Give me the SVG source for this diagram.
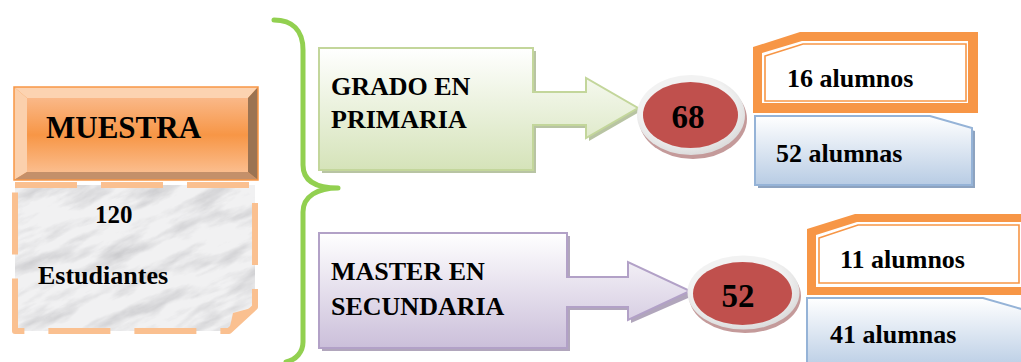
<svg xmlns="http://www.w3.org/2000/svg" width="1021" height="362" viewBox="0 0 1021 362">
<defs>
  <linearGradient id="gGreen" x1="0" y1="0" x2="0" y2="1">
    <stop offset="0" stop-color="#ffffff"/><stop offset="1" stop-color="#d5e3b9"/>
  </linearGradient>
  <linearGradient id="gPurple" x1="0" y1="0" x2="0" y2="1">
    <stop offset="0" stop-color="#ffffff"/><stop offset="1" stop-color="#cbbfda"/>
  </linearGradient>
  <linearGradient id="gBlue" x1="0" y1="0" x2="0" y2="1">
    <stop offset="0" stop-color="#ffffff"/><stop offset="1" stop-color="#b8cce4"/>
  </linearGradient>
  <linearGradient id="gOrange" x1="0" y1="0" x2="0" y2="1">
    <stop offset="0" stop-color="#fab888"/><stop offset="0.5" stop-color="#f79646"/><stop offset="1" stop-color="#fbbd8d"/>
  </linearGradient>
  <radialGradient id="gRing" cx="0.45" cy="0.4" r="0.6">
    <stop offset="0.7" stop-color="#f2f2f2"/><stop offset="1" stop-color="#dcdcdc"/>
  </radialGradient>
  <filter id="marble" x="0" y="0" width="1" height="1">
    <feTurbulence type="fractalNoise" baseFrequency="0.02 0.07" numOctaves="5" seed="11" result="t"/>
    <feColorMatrix in="t" type="matrix" values="0 0 0 0 0.58  0 0 0 0 0.58  0 0 0 0 0.6  1.9 0 0 0 -0.82" result="c"/>
    <feComposite in="c" in2="SourceGraphic" operator="in"/>
  </filter>
  <clipPath id="cp" clipPathUnits="userSpaceOnUse">
    <path transform="rotate(25 135 258)" d="M15,185 H255 V307 L229,331 H15 Z"/>
  </clipPath>
  <style>
    .t{font-family:"Liberation Serif","Times New Roman",serif;font-weight:bold;fill:#000}
    .brace{fill:none;stroke:#92d050;stroke-width:5;stroke-linecap:round;stroke-linejoin:round}
    .band{fill:#f79646;fill-rule:evenodd}
    .thin{fill:#fff;stroke:#f79646;stroke-width:1.6}
  </style>
</defs>

<g id="muestra">
  <rect x="14" y="87" width="244" height="93" fill="#f79646"/>
  <polygon points="14,87 258,87 248,98 27,98" fill="#fcd3b1"/>
  <polygon points="14,87 27,98 27,172 14,180" fill="#fbd0ac"/>
  <polygon points="258,87 258,180 248,172 248,98" fill="#9b7352"/>
  <polygon points="14,180 258,180 248,172 27,172" fill="#c4906a"/>
  <rect x="27" y="98" width="221" height="74" fill="url(#gOrange)"/>
  <rect x="14" y="87" width="244" height="93" fill="none" stroke="#f79646" stroke-width="1.5"/>
  <text class="t" x="46" y="138" font-size="31">MUESTRA</text>
</g>

<g id="estudiantes">
  <path d="M15,185 H255 V307 L229,331 H15 Z" fill="#f1f1f2"/>
  <g transform="rotate(-25 135 258)">
    <rect x="-30" y="130" width="330" height="260" fill="#000" filter="url(#marble)" clip-path="url(#cp)"/>
  </g>
  <polygon points="255,307 229,331 233,313" fill="#fac090"/>
  <path d="M15,185 H255 V307 L229,331 H15 Z" fill="none" stroke="#fac090" stroke-width="6" stroke-dasharray="62 24" stroke-linejoin="round"/>
  <text class="t" x="95" y="223" font-size="25">120</text>
  <text class="t" x="38" y="284" font-size="26">Estudiantes</text>
</g>

<g id="connectors">
  <path class="brace" d="M274,20 C292,20 303,30 303,50 V165 C303,182 318,188 338,188 C318,188 303,196 303,212 V342 C303,352 296,360 286,362"/>
</g>

<g id="grado">
  <polygon points="322,51 536,51 536,95 589,95 589,81 641,111 589,141 589,128 536,128 536,173 322,173" fill="#a6b58c" opacity="0.8"/>
  <polygon points="319,48 533,48 533,92 586,92 586,78 638,108 586,138 586,125 533,125 533,170 319,170" fill="url(#gGreen)" stroke="#c3d69b" stroke-width="2"/>
  <text class="t" x="331" y="95" font-size="26">GRADO EN</text>
  <text class="t" x="331" y="128" font-size="26">PRIMARIA</text>
</g>

<g id="master">
  <polygon points="322,236 570,236 570,280 631,280 631,265 695,295 631,323 631,310 570,310 570,351 322,351" fill="#a397b0" opacity="0.85"/>
  <polygon points="319,233 567,233 567,277 628,277 628,262 690,291 628,320 628,307 567,307 567,348 319,348" fill="url(#gPurple)" stroke="#b2a1c7" stroke-width="2"/>
  <text class="t" x="331" y="280" font-size="26">MASTER EN</text>
  <text class="t" x="331" y="315" font-size="26">SECUNDARIA</text>
</g>

<g id="c68">
  <ellipse cx="693" cy="119" rx="54" ry="40" fill="#c49a9a"/>
  <ellipse cx="691" cy="115" rx="54" ry="40" fill="url(#gRing)"/>
  <ellipse cx="690.5" cy="115" rx="47.5" ry="33" fill="#c0504d"/>
  <text class="t" x="688" y="128" font-size="33" text-anchor="middle">68</text>
</g>

<g id="c52">
  <ellipse cx="745" cy="296" rx="56" ry="37" fill="#c49a9a"/>
  <ellipse cx="743.5" cy="292.5" rx="56" ry="37" fill="url(#gRing)"/>
  <ellipse cx="742.5" cy="293.5" rx="49.5" ry="31.5" fill="#c0504d"/>
  <text class="t" x="738" y="307" font-size="33" text-anchor="middle">52</text>
</g>

<g id="alumnos16">
  <path class="band" d="M753,47 L800,32 H978 V113 H753 Z M762,53 L802,41 H968 V103 H762 Z"/>
  <polygon class="thin" points="765,56 803,44 966,44 966,101 765,101"/>
  <text class="t" x="787" y="87" font-size="26">16 alumnos</text>
</g>

<g id="alumnas52">
  <polygon points="758,119 933,119 975,131 975,188 758,188" fill="#8da3c0"/>
  <polygon points="755,116 930,116 972,128 972,185 755,185" fill="url(#gBlue)" stroke="#95b3d7" stroke-width="2"/>
  <text class="t" x="776" y="162" font-size="26">52 alumnas</text>
</g>

<g id="alumnos11">
  <path class="band" d="M807,229 L855,214 H1032 V295 H807 Z M816,235 L857,222 H1021 V287 H816 Z"/>
  <polygon class="thin" points="819,238 858,225 1019,225 1019,283 819,283"/>
  <text class="t" x="840" y="268" font-size="26">11 alumnos</text>
</g>

<g id="alumnas41">
  <polygon points="810,301 986,301 1028,313 1028,372 810,372" fill="#8da3c0"/>
  <polygon points="807,298 983,298 1025,310 1025,370 807,370" fill="url(#gBlue)" stroke="#95b3d7" stroke-width="2"/>
  <text class="t" x="830" y="343" font-size="26">41 alumnas</text>
</g>
</svg>
